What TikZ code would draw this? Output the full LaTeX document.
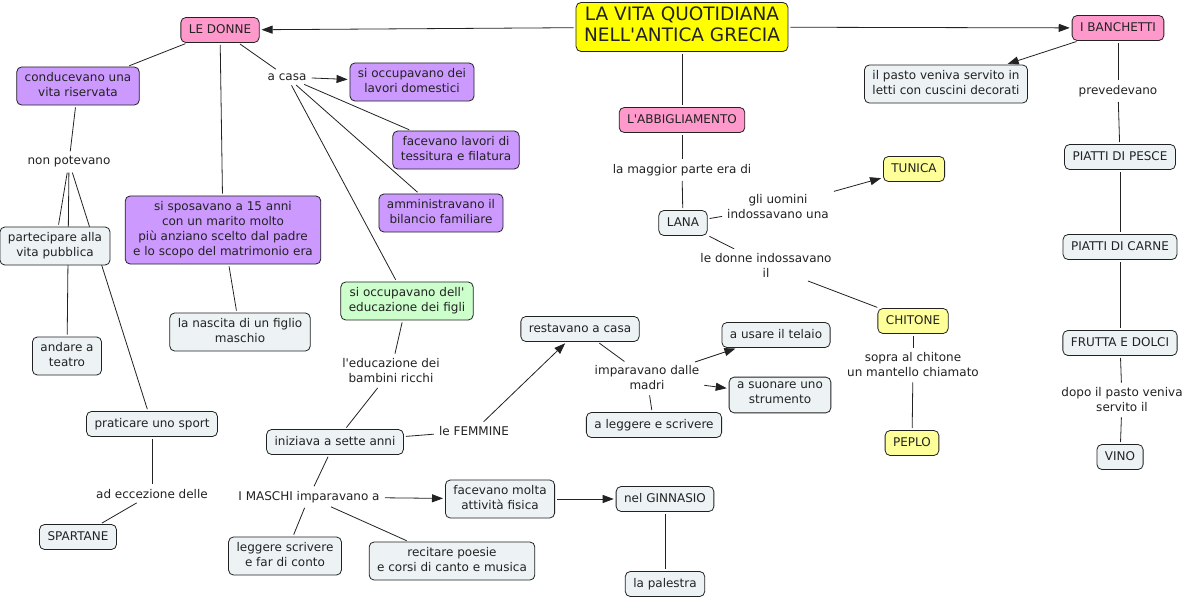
\documentclass[tikz,border=0pt]{standalone}
\usepackage{fontspec}
\newfontfamily\cmfont{DejaVu Sans}
\usepackage{tikz}
\usetikzlibrary{arrows.meta, backgrounds}
\definecolor{cmpink}{HTML}{FF99CC}
\definecolor{cmpurple}{HTML}{CC99FF}
\definecolor{cmgreen}{HTML}{CCFFCC}
\definecolor{cmtitle}{HTML}{FFFF00}
\definecolor{cmyellow}{HTML}{FFFF99}
\definecolor{cmlight}{HTML}{EDF3F5}
\definecolor{cmline}{HTML}{222222}
\newcommand\cmtop{\vrule height 11pt depth 0pt width 0pt}
\newcommand\cmbottom{\vrule height 0pt depth 4pt width 0pt}
\tikzset{
	concept/.style={draw=cmline, line width=0.8pt, rounded corners=5pt, align=center, inner xsep=8pt, inner ysep=5pt, text=cmline, font=\cmfont\fontsize{12}{15}\selectfont, execute at begin node=\cmtop, execute at end node=\cmbottom},
	pinkbox/.style={concept, fill=cmpink},
	purplebox/.style={concept, fill=cmpurple},
	greenbox/.style={concept, fill=cmgreen},
	yellowbox/.style={concept, fill=cmyellow},
	lightbox/.style={concept, fill=cmlight},
	phrase/.style={align=center, inner sep=3pt, text=cmline, font=\cmfont\fontsize{12}{15}\selectfont},
	link/.style={draw=cmline, line width=0.8pt, shorten <=2pt, shorten >=2pt},
	arrowlink/.style={link, -{Triangle[length=11pt,width=8pt]}}
}
\begin{document}
\begin{tikzpicture}[x=1pt, y=-1pt]
		\useasboundingbox (0,0) rectangle (1185,601);
		\node[concept, fill=cmtitle, inner ysep=4pt, font=\cmfont\fontsize{18.5}{21}\selectfont, execute at begin node=\strut, execute at end node=\strut] (title) at (682,27) {LA VITA QUOTIDIANA\\NELL'ANTICA GRECIA};
		\node[pinkbox] (ledonne) at (220,30) {LE DONNE};
		\node[pinkbox] (banchetti) at (1118,28) {I BANCHETTI};
		\node[pinkbox] (abbigl) at (682,120) {L'ABBIGLIAMENTO};
		% le donne
		\node[purplebox] (riservata) at (78,86) {conducevano una\\vita riservata};
		\node[phrase] (acasa) at (287,77) {a casa};
		\node[purplebox] (domestici) at (412,82) {si occupavano dei\\lavori domestici};
		\node[purplebox] (tessitura) at (456,150) {facevano lavori di\\tessitura e filatura};
		\node[purplebox] (bilancio) at (441,213) {amministravano il\\bilancio familiare};
		\node[purplebox] (sposavano) at (223,230) {si sposavano a 15 anni\\con un marito molto\\più anziano scelto dal padre\\e lo scopo del matrimonio era};
		\node[lightbox] (nascita) at (240,332) {la nascita di un figlio\\maschio};
		\node[phrase] (nonpotevano) at (69,162) {non potevano};
		\node[lightbox] (partecipare) at (55,246) {partecipare alla\\vita pubblica};
		\node[lightbox] (teatro) at (67,356) {andare a\\teatro};
		\node[lightbox] (sport) at (152,424) {praticare uno sport};
		\node[phrase] (eccezione) at (152,494) {ad eccezione delle};
		\node[lightbox] (spartane) at (78,537) {SPARTANE};
		% figli
		\node[greenbox] (educazione) at (407,301) {si occupavano dell'\\educazione dei figli};
		\node[phrase] (ricchi) at (391,371) {l'educazione dei\\bambini ricchi};
		\node[lightbox] (sette) at (335,442) {iniziava a sette anni};
		\node[phrase] (femmine) at (474,431) {le FEMMINE};
		\node[lightbox] (restavano) at (580,329) {restavano a casa};
		\node[phrase] (madri) at (647,378) {imparavano dalle\\madri};
		\node[lightbox] (telaio) at (776,335) {a usare il telaio};
		\node[lightbox] (strumento) at (780,395) {a suonare uno\\strumento};
		\node[lightbox] (leggere) at (654,425) {a leggere e scrivere};
		\node[phrase] (maschi) at (309,497) {I MASCHI imparavano a};
		\node[lightbox] (fisica) at (500,499) {facevano molta\\attività fisica};
		\node[lightbox] (ginnasio) at (665,499) {nel GINNASIO};
		\node[lightbox] (palestra) at (665,584) {la palestra};
		\node[lightbox] (conto) at (285,556) {leggere scrivere\\e far di conto};
		\node[lightbox] (poesie) at (452,561) {recitare poesie\\e corsi di canto e musica};
		% abbigliamento
		\node[phrase] (maggior) at (682,170) {la maggior parte era di};
		\node[lightbox] (lana) at (683,223) {LANA};
		\node[phrase] (uomini) at (778,207) {gli uomini\\indossavano una};
		\node[yellowbox] (tunica) at (914,169) {TUNICA};
		\node[phrase] (donne) at (766,265) {le donne indossavano\\il};
		\node[yellowbox] (chitone) at (913,321) {CHITONE};
		\node[phrase] (mantello) at (913,365) {sopra al chitone\\un mantello chiamato};
		\node[yellowbox] (peplo) at (912,443) {PEPLO};
		% banchetti
		\node[lightbox] (pasto) at (946,84) {il pasto veniva servito in\\letti con cuscini decorati};
		\node[phrase] (prevedevano) at (1118,91) {prevedevano};
		\node[lightbox] (pesce) at (1120,157) {PIATTI DI PESCE};
		\node[lightbox] (carne) at (1120,247) {PIATTI DI CARNE};
		\node[lightbox] (frutta) at (1120,343) {FRUTTA E DOLCI};
		\node[phrase] (dopo) at (1122,400) {dopo il pasto veniva\\servito il};
		\node[lightbox] (vino) at (1120,457) {VINO};
		\begin{scope}[on background layer]
			\fill[white] (0,0) rectangle (1185,601);
			\draw[arrowlink] (title) -- (ledonne);
			\draw[arrowlink] (title) -- (banchetti);
			\draw[link] (title) -- (abbigl);
			\draw[link] (ledonne) -- (riservata);
			\draw[link] (ledonne) -- (sposavano);
			\draw[link] (ledonne) -- (acasa);
			\draw[arrowlink] (acasa) -- (domestici);
			\draw[link] (acasa) -- (tessitura);
			\draw[link] (acasa) -- (bilancio);
			\draw[link] (acasa) -- (educazione);
			\draw[link] (sposavano) -- (nascita);
			\draw[link] (riservata) -- (nonpotevano);
			\draw[link] (nonpotevano) -- (partecipare);
			\draw[link] (nonpotevano) -- (teatro);
			\draw[link] (nonpotevano) -- (sport);
			\draw[link] (sport) -- (eccezione);
			\draw[link] (eccezione) -- (spartane);
			\draw[link] (educazione) -- (ricchi);
			\draw[link] (ricchi) -- (sette);
			\draw[link] (sette) -- (femmine);
			\draw[arrowlink] (femmine) -- (restavano);
			\draw[link] (restavano) -- (madri);
			\draw[arrowlink] (madri) -- (telaio);
			\draw[arrowlink] (madri) -- (strumento);
			\draw[link] (madri) -- (leggere);
			\draw[link] (sette) -- (maschi);
			\draw[arrowlink] (maschi) -- (fisica);
			\draw[link] (maschi) -- (conto);
			\draw[link] (maschi) -- (poesie);
			\draw[arrowlink] (fisica) -- (ginnasio);
			\draw[link] (ginnasio) -- (palestra);
			\draw[link] (abbigl) -- (maggior);
			\draw[link] (maggior) -- (lana);
			\draw[link] (lana) -- (uomini);
			\draw[arrowlink] (uomini) -- (tunica);
			\draw[link] (lana) -- (donne);
			\draw[link] (donne) -- (chitone);
			\draw[link] (chitone) -- (mantello);
			\draw[link] (mantello) -- (peplo);
			\draw[arrowlink] (banchetti) -- (pasto);
			\draw[link] (banchetti) -- (prevedevano);
			\draw[link] (prevedevano) -- (pesce);
			\draw[link] (pesce) -- (carne);
			\draw[link] (carne) -- (frutta);
			\draw[link] (frutta) -- (dopo);
			\draw[link] (dopo) -- (vino);
		\end{scope}
	\end{tikzpicture}
\end{document}
